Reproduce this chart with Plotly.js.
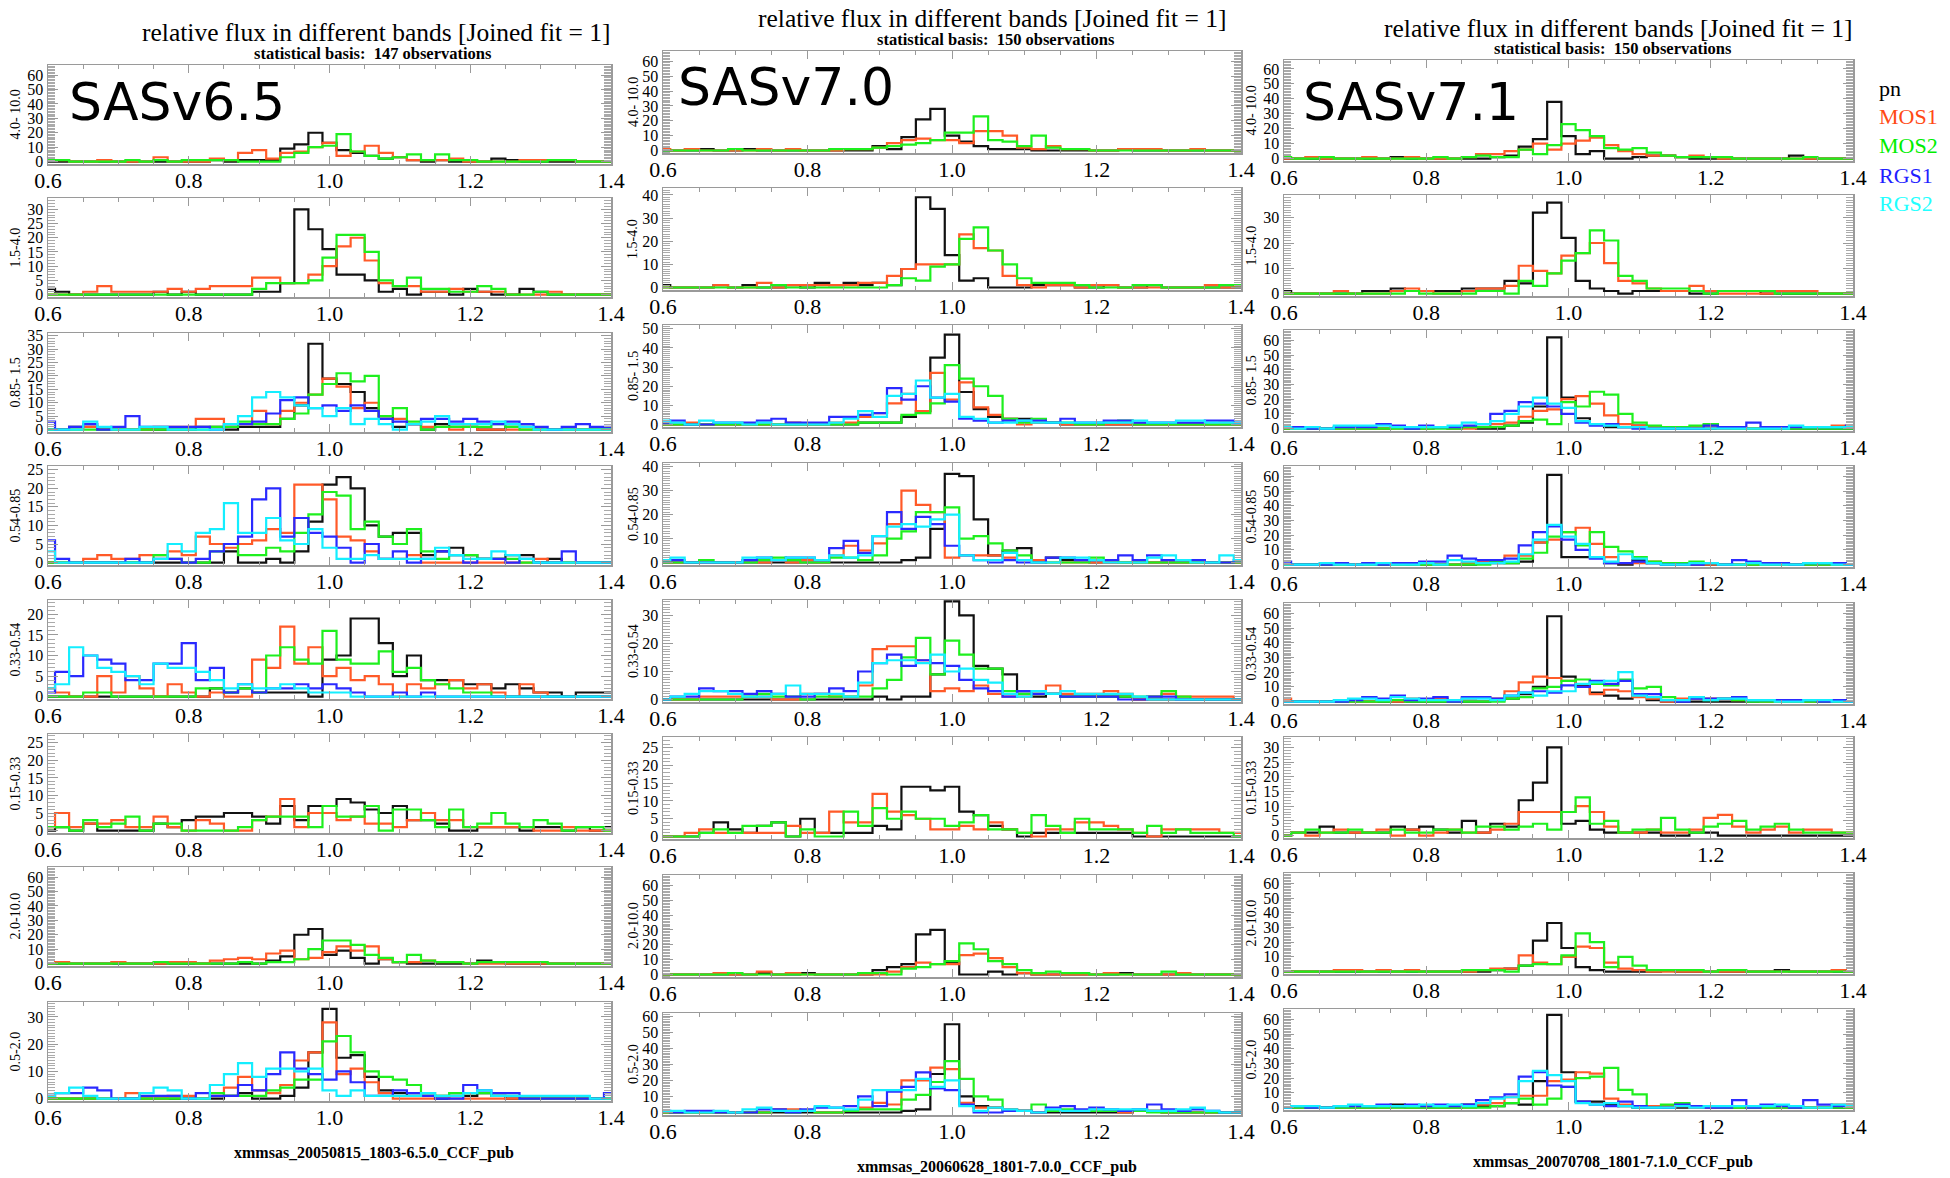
<!DOCTYPE html>
<html>
<head>
<meta charset="utf-8">
<script src="https://cdn.plot.ly/plotly-3.0.1.min.js"></script>
<style>html,body{margin:0;padding:0;background:#fff;}#chart{width:1950px;height:1178px;}</style>
</head>
<body>
<div id="chart"></div>
<script>
// ---------------- DATA ----------------
const xCenters = [0.60,0.62,0.64,0.66,0.68,0.70,0.72,0.74,0.76,0.78, 0.80,0.82,0.84,0.86,0.88,0.90,0.92,0.94,0.96,0.98, 1.00,1.02,1.04,1.06,1.08,1.10,1.12,1.14,1.16,1.18, 1.20,1.22,1.24,1.26,1.28,1.30,1.32,1.34,1.36,1.38, 1.40];
const xTickVals = [0.6,0.8,1.0,1.2,1.4];
const xTickText = ['0.6','0.8','1.0','1.2','1.4'];
const versions = ['SASv6.5','SASv7.0','SASv7.1'];
const observations = [147,150,150];
const runLabels = ['xmmsas_20050815_1803-6.5.0_CCF_pub','xmmsas_20060628_1801-7.0.0_CCF_pub','xmmsas_20070708_1801-7.1.0_CCF_pub'];
const bands = ['4.0- 10.0','1.5-4.0','0.85- 1.5','0.54-0.85','0.33-0.54','0.15-0.33','2.0-10.0','0.5-2.0'];
const detectors = ['pn','MOS1','MOS2','RGS1','RGS2'];
const mainTitle = 'relative flux in different bands [Joined fit = 1]';

// ---- SASv6.5 ----
const v65_b4_10_pn   = [0,0,0,0,0,0,0,0,0,0, 0,0,1,0,1,1,1,9,12,20, 13,8,6,4,2,3,1,0,1,0, 0,0,2,1,0,0,0,0,0,0, 0];
const v65_b4_10_mos1 = [1,1,0,0,1,0,0,0,3,0, 0,0,2,1,6,8,2,6,7,10, 13,4,7,11,6,3,1,1,1,2, 0,0,0,0,1,1,1,1,0,0, 0];
const v65_b4_10_mos2 = [1,1,0,0,0,0,1,0,1,0, 1,1,1,1,0,0,0,3,6,10, 11,19,7,4,2,3,5,1,5,1, 1,0,0,0,0,0,1,1,0,0, 0];

const v65_b15_4_pn   = [2,1,0,0,0,0,0,0,1,0, 1,0,0,0,0,1,1,4,30,23, 16,7,7,5,1,2,0,1,1,0, 2,1,0,0,2,1,0,0,0,0, 0];
const v65_b15_4_mos1 = [0,0,0,1,3,1,1,1,1,2, 1,2,3,3,3,6,6,4,4,7, 10,17,20,12,4,3,3,1,1,2, 1,1,1,0,0,0,1,0,0,0, 0];
const v65_b15_4_mos2 = [0,0,0,0,0,0,0,0,0,0, 0,0,0,0,0,2,4,4,4,5, 13,21,21,15,5,3,6,2,2,1, 1,3,2,0,0,1,0,0,0,0, 0];

const v65_b085_15_pn   = [0,0,1,1,0,0,0,0,0,0, 0,1,1,0,1,1,1,4,9,32, 19,17,14,8,5,1,2,0,2,1, 1,0,0,1,1,0,0,0,0,0, 0];
const v65_b085_15_mos1 = [0,0,0,1,0,0,0,0,1,1, 1,4,4,2,2,7,2,7,10,13, 19,16,8,10,4,4,2,1,1,0, 1,0,0,0,0,0,0,0,0,0, 0];
const v65_b085_15_mos2 = [0,0,0,0,0,0,0,0,0,0, 0,0,1,1,3,2,2,4,6,13, 17,21,18,20,5,8,3,0,1,1, 1,1,2,1,0,0,0,0,0,0, 0];
const v65_b085_15_rgs1 = [3,0,1,2,0,1,5,1,1,1, 1,1,0,2,2,3,6,11,12,8, 9,7,9,7,4,3,2,4,4,3, 4,3,2,3,2,1,0,1,2,1, 1];
const v65_b085_15_rgs2 = [0,0,0,3,1,0,0,1,1,0, 0,0,0,2,5,12,14,12,9,8, 5,8,2,4,2,0,2,3,5,2, 2,2,3,2,1,0,0,0,0,0, 0];

const v65_b054_085_pn   = [0,0,0,0,0,0,0,0,0,0, 0,0,0,3,0,0,1,0,3,11, 21,23,20,10,7,8,8,2,3,4, 2,1,1,2,2,0,1,0,0,0, 0];
const v65_b054_085_mos1 = [0,0,0,1,2,1,1,2,2,3, 2,7,5,4,5,6,9,8,21,21, 17,7,6,3,1,1,2,0,0,0, 0,0,0,0,0,1,0,0,0,0, 0];
const v65_b054_085_mos2 = [0,0,0,0,0,0,0,0,2,1, 0,0,3,5,2,2,4,3,8,13, 19,18,9,11,7,5,9,3,1,2, 2,1,1,1,0,0,0,0,0,0, 0];
const v65_b054_085_rgs1 = [6,1,0,0,0,0,1,0,1,1, 0,1,3,5,7,17,20,7,12,8, 7,4,0,5,1,3,0,1,3,2, 0,1,1,0,1,0,0,3,0,0, 0];
const v65_b054_085_rgs2 = [3,0,0,0,0,0,0,0,1,5, 3,8,9,16,8,8,12,6,5,9, 4,1,1,2,1,1,1,1,4,2, 1,1,3,2,1,0,0,0,0,0, 0];

const v65_b033_054_pn   = [0,0,0,0,0,0,0,0,0,0, 0,0,2,1,2,1,1,1,1,0, 9,10,19,19,13,5,10,4,4,4, 3,3,2,3,2,1,1,0,1,1, 1];
const v65_b033_054_mos1 = [2,1,0,0,5,1,5,2,0,3, 1,0,1,0,0,9,7,17,8,12, 5,7,4,5,3,0,3,2,3,4, 2,3,1,0,3,1,0,0,0,0, 0];
const v65_b033_054_mos2 = [0,0,0,1,1,0,0,0,0,0, 0,2,2,1,2,1,10,12,9,8, 16,9,8,8,11,6,7,4,3,2, 1,1,0,0,0,0,0,0,0,0, 0];
const v65_b033_054_rgs1 = [1,6,5,10,9,8,4,4,8,8, 13,4,7,1,3,1,2,2,3,2, 3,2,1,0,0,1,0,1,0,0, 0,0,0,0,0,0,0,0,0,0, 0];
const v65_b033_054_rgs2 = [2,3,12,10,7,6,5,3,8,7, 7,6,4,2,3,2,2,3,2,1, 1,1,0,0,0,0,0,0,0,0, 0,0,0,0,0,0,0,0,0,0, 0];

const v65_b015_033_pn   = [0,1,0,2,0,0,0,0,2,1, 3,4,4,5,5,4,2,7,3,7, 7,9,8,6,5,7,3,3,2,0, 0,1,1,1,0,1,1,0,1,0, 1];
const v65_b015_033_mos1 = [1,5,1,2,2,3,1,1,4,1, 0,3,2,0,0,3,4,9,1,5, 5,3,4,2,2,1,3,5,3,3, 1,1,1,1,1,0,0,1,0,0, 0];
const v65_b015_033_mos2 = [1,1,0,3,1,2,4,0,2,2, 0,0,0,0,1,3,4,4,4,1, 7,4,4,7,0,6,6,3,1,6, 1,2,5,2,1,3,2,0,1,1, 0];

const v65_b2_10_pn   = [0,0,0,0,0,0,0,0,0,0, 0,0,0,0,0,0,2,5,20,24, 6,9,4,0,3,1,0,0,0,0, 0,2,1,0,0,0,0,0,0,0, 0];
const v65_b2_10_mos1 = [0,1,0,0,0,1,0,0,0,1, 1,0,2,3,4,3,7,9,3,4, 8,12,9,12,3,1,1,2,1,1, 0,0,0,0,0,0,0,0,0,0, 0];
const v65_b2_10_mos2 = [0,0,0,0,0,0,0,0,1,0, 0,0,0,0,1,0,1,1,3,10, 16,16,13,6,4,1,6,2,1,1, 0,1,1,1,1,1,0,0,0,0, 0];

const v65_b05_2_pn   = [0,0,0,0,0,0,0,0,0,0, 0,0,0,1,2,0,0,1,4,17, 33,15,16,8,3,2,1,1,0,1, 1,2,1,0,0,0,0,0,0,0, 0];
const v65_b05_2_mos1 = [0,0,0,0,0,0,2,0,0,1, 1,0,1,4,8,3,2,5,14,17, 28,9,11,6,2,0,0,0,1,0, 0,0,0,0,0,0,0,0,0,0, 0];
const v65_b05_2_mos2 = [0,0,0,0,0,0,0,0,0,0, 0,0,2,1,1,1,3,4,7,7, 21,23,17,10,8,7,5,2,1,2, 2,2,1,1,0,0,0,0,0,0, 0];
const v65_b05_2_rgs1 = [1,2,2,4,3,0,0,1,1,1, 0,2,1,1,5,3,9,17,11,9, 7,10,6,1,1,3,2,1,0,0, 5,3,2,2,0,0,0,0,0,0, 2];
const v65_b05_2_rgs2 = [1,2,4,1,0,0,0,2,4,3, 0,0,5,9,13,8,11,11,10,11, 3,1,3,1,1,1,1,2,1,1, 2,3,1,1,1,1,1,1,1,0, 0];

// ---- SASv7.0 ----
const v70_b4_10_pn   = [0,0,0,1,0,0,1,0,0,0, 0,0,0,0,0,3,1,9,21,28, 10,6,3,1,1,1,0,0,0,0, 0,0,1,0,0,0,0,0,0,0, 0];
const v70_b4_10_mos1 = [1,0,1,0,0,0,0,1,0,1, 0,0,0,1,1,2,5,7,8,7, 7,5,13,13,10,2,1,3,1,1, 0,0,1,1,1,0,0,1,0,0, 0];
const v70_b4_10_mos2 = [0,0,0,0,0,1,0,0,0,0, 0,0,1,1,1,2,3,4,5,7, 12,12,23,7,6,3,10,2,1,1, 0,0,0,0,0,0,0,0,0,0, 0];

const v70_b15_4_pn   = [1,0,0,0,1,0,1,0,0,1, 0,2,1,2,1,2,1,8,39,34, 14,3,4,0,0,0,1,1,1,0, 0,1,0,0,1,0,0,0,0,0, 0];
const v70_b15_4_mos1 = [0,0,0,0,1,0,0,2,0,1, 1,1,1,1,2,2,5,8,10,10, 10,23,17,16,5,1,0,1,1,0, 1,1,0,0,0,0,0,0,1,0, 1];
const v70_b15_4_mos2 = [0,0,0,0,0,0,0,0,1,0, 0,0,0,0,0,0,1,4,3,9, 10,21,26,16,10,4,2,2,2,1, 0,0,0,1,1,0,0,0,0,1, 1];

const v70_b085_15_pn   = [0,0,0,0,0,0,0,0,0,0, 0,0,0,0,1,1,1,4,7,35, 47,17,8,4,3,3,1,1,0,0, 0,0,0,0,0,0,0,0,0,0, 0];
const v70_b085_15_mos1 = [0,0,1,0,0,0,0,0,0,1, 0,0,1,1,4,6,11,16,7,27, 13,22,9,5,3,0,1,1,0,0, 0,0,0,0,0,0,0,0,0,1, 0];
const v70_b085_15_mos2 = [0,0,0,0,0,0,0,0,0,0, 0,0,0,0,1,1,1,5,6,11, 31,24,20,15,3,1,3,1,1,0, 0,1,2,0,0,0,0,0,0,0, 0];
const v70_b085_15_rgs1 = [1,2,0,0,1,1,1,2,3,1, 1,1,4,4,5,6,19,13,20,14, 12,3,2,1,2,2,2,1,3,1, 1,2,2,1,1,1,1,1,2,2, 1];
const v70_b085_15_rgs2 = [2,1,0,2,1,1,0,1,0,0, 0,0,1,3,7,4,15,16,23,14, 16,4,3,1,1,2,1,1,1,1, 1,1,1,2,1,1,2,2,1,1, 1];

const v70_b054_085_pn   = [0,0,0,0,0,0,0,0,0,0, 0,0,0,0,0,0,0,1,2,14, 37,36,18,3,5,6,1,2,1,1, 0,0,0,0,0,0,0,0,0,0, 0];
const v70_b054_085_mos1 = [1,0,0,0,0,0,1,0,1,0, 1,0,3,7,5,8,16,30,24,21, 2,3,3,3,2,1,1,0,0,0, 0,0,0,0,0,0,0,0,0,0, 0];
const v70_b054_085_mos2 = [0,0,0,1,0,0,0,1,2,1, 0,0,2,2,1,3,10,13,21,21, 23,10,11,8,5,3,0,0,0,0, 2,1,0,0,0,0,0,0,0,0, 0];
const v70_b054_085_rgs1 = [1,1,0,0,0,0,1,2,1,2, 2,1,6,9,4,11,21,14,19,16, 7,3,1,0,1,0,0,2,2,1, 1,1,3,1,3,1,1,1,0,0, 1];
const v70_b054_085_rgs2 = [1,2,0,0,0,0,2,2,1,2, 2,1,3,2,3,11,15,16,15,18, 20,3,1,1,4,1,0,0,2,2, 1,0,0,0,2,3,1,0,0,3, 1];

const v70_b033_054_pn   = [0,0,0,0,0,0,0,0,0,0, 0,0,0,0,0,1,0,1,1,9, 35,30,12,11,9,2,1,2,1,1, 1,1,1,0,0,0,0,0,0,0, 0];
const v70_b033_054_mos1 = [0,0,0,1,1,1,1,1,0,0, 2,2,1,1,5,18,19,19,14,3, 4,3,5,2,1,1,2,5,2,2, 2,3,2,0,1,2,1,1,1,1, 0];
const v70_b033_054_mos2 = [0,0,0,0,0,0,1,2,1,1, 0,1,1,1,1,4,7,15,22,9, 21,16,11,11,3,2,2,2,1,1, 1,1,1,1,1,3,1,0,0,0, 0];
const v70_b033_054_rgs1 = [0,1,1,4,3,3,2,3,2,1, 1,2,4,3,10,13,16,12,14,13, 12,7,4,3,1,3,2,2,1,1, 1,1,0,0,1,1,0,0,0,0, 0];
const v70_b033_054_rgs2 = [0,1,2,3,3,2,1,1,2,5, 2,2,2,1,6,13,14,14,13,16, 10,11,7,6,2,1,3,2,3,2, 2,2,2,1,0,0,0,0,0,0, 0];

const v70_b015_033_pn   = [0,0,0,1,4,2,1,3,4,0, 5,1,1,1,1,3,2,14,14,13, 14,7,6,3,2,0,1,1,1,1, 1,1,1,0,0,0,0,0,0,0, 0];
const v70_b015_033_mos1 = [0,0,1,2,1,1,1,1,1,3, 1,1,7,4,4,12,7,6,5,2, 2,3,2,4,2,1,0,2,2,4, 4,3,2,1,0,2,2,2,2,1, 1];
const v70_b015_033_mos2 = [0,0,0,1,2,1,3,3,4,0, 2,0,0,7,3,8,5,7,5,5, 3,4,6,2,2,1,6,3,1,5, 2,2,2,1,3,1,2,1,1,1, 0];

const v70_b2_10_pn   = [0,0,0,0,0,0,0,1,0,0, 1,0,0,0,0,3,5,7,27,30, 8,0,0,2,0,1,0,0,0,0, 0,0,1,0,0,0,0,0,0,0, 0];
const v70_b2_10_mos1 = [0,0,0,0,1,0,0,2,0,1, 0,0,0,0,0,0,2,5,8,7, 7,13,14,11,5,1,0,0,0,0, 0,1,0,0,0,0,1,0,0,0, 0];
const v70_b2_10_mos2 = [0,0,0,0,0,1,0,0,0,0, 0,0,0,0,1,1,0,4,5,7, 9,21,17,9,7,3,1,2,1,1, 0,0,0,0,0,2,0,0,0,0, 0];

const v70_b05_2_pn   = [0,0,0,0,0,0,0,0,0,0, 0,0,0,0,0,0,0,1,2,24, 55,10,4,3,2,1,0,0,0,0, 0,0,0,1,1,0,0,0,0,0, 0];
const v70_b05_2_mos1 = [0,0,0,0,0,0,0,0,2,2, 1,0,0,1,3,6,5,20,20,28, 27,6,3,3,2,1,0,1,1,1, 2,1,0,1,1,0,0,0,0,0, 0];
const v70_b05_2_mos2 = [0,0,0,0,0,0,0,0,1,0, 1,0,0,1,2,2,2,8,11,19, 32,21,10,8,1,1,5,1,2,1, 1,1,1,1,0,0,0,0,0,0, 0];
const v70_b05_2_rgs1 = [1,0,1,1,0,0,0,2,2,0, 2,3,3,4,10,4,13,16,25,15, 14,5,0,0,1,1,0,3,4,2, 3,2,1,2,5,2,1,2,1,0, 0];
const v70_b05_2_rgs2 = [1,1,0,0,1,0,2,3,1,1, 1,4,3,2,8,14,14,14,21,16, 20,4,1,3,2,1,0,2,1,1, 2,2,2,2,1,1,2,3,1,0, 0];

// ---- SASv7.1 ----
const v71_b4_10_pn   = [0,0,0,0,0,0,0,0,1,0, 0,0,0,0,0,1,2,8,13,38, 15,3,5,0,0,1,2,2,1,0, 0,0,0,0,0,0,2,0,0,0, 0];
const v71_b4_10_mos1 = [0,0,1,0,0,0,1,0,0,1, 0,0,0,1,3,3,5,6,10,6, 10,12,14,9,5,3,2,2,1,2, 1,0,0,0,0,0,0,0,0,0, 0];
const v71_b4_10_mos2 = [1,0,0,1,0,0,0,0,0,0, 0,1,0,1,2,1,1,6,3,9, 23,19,15,7,6,7,4,2,1,1, 1,1,0,0,0,0,0,1,0,0, 0];

const v71_b15_4_pn   = [1,0,0,0,0,0,1,1,2,1, 1,1,1,2,2,2,5,4,32,36, 22,5,2,1,0,1,1,1,1,0, 0,1,1,1,0,0,0,0,0,0, 0];
const v71_b15_4_mos1 = [0,0,0,0,1,0,0,0,1,2, 1,0,0,1,2,2,3,11,9,8, 15,16,20,12,5,4,2,1,1,3, 1,0,0,0,0,1,1,1,0,0, 0];
const v71_b15_4_mos2 = [0,0,0,0,0,0,0,0,0,1, 0,0,0,0,1,1,0,5,3,8, 13,16,25,21,7,5,2,2,2,1, 0,1,1,1,1,0,0,0,0,0, 0];

const v71_b085_15_pn   = [0,0,0,0,0,0,0,0,1,0, 0,1,0,1,0,0,2,4,15,62, 21,7,3,1,1,2,1,0,0,0, 0,0,0,0,0,0,0,0,0,0, 0];
const v71_b085_15_mos1 = [0,0,1,0,0,0,0,0,0,1, 0,1,0,0,1,3,4,8,12,13, 20,22,17,9,3,2,1,1,1,1, 2,0,0,0,1,1,1,1,1,2, 2];
const v71_b085_15_mos2 = [0,0,0,0,0,0,0,0,0,0, 0,0,0,1,1,1,2,5,6,3, 18,15,25,23,10,4,2,1,1,2, 3,1,0,0,0,0,0,0,0,0, 0];
const v71_b085_15_rgs1 = [1,1,0,0,1,1,1,3,2,0, 2,1,1,2,3,10,12,18,17,15, 10,4,2,3,1,0,0,0,0,0, 2,1,1,4,1,1,1,1,1,1, 2];
const v71_b085_15_rgs2 = [1,0,1,0,2,2,2,2,1,1, 1,1,2,4,3,5,10,15,21,17, 14,5,3,2,1,1,0,0,0,0, 0,0,0,0,0,0,2,1,1,1, 1];

const v71_b054_085_pn   = [0,0,0,0,0,0,0,0,0,0, 0,0,0,0,2,1,1,2,15,61, 5,5,5,1,0,3,1,0,0,0, 0,0,0,0,0,0,0,0,0,0, 0];
const v71_b054_085_mos1 = [0,0,0,0,0,0,0,0,0,1, 0,0,0,1,2,3,6,6,15,17, 22,25,14,5,1,1,2,1,0,0, 0,0,0,0,0,0,0,0,0,0, 0];
const v71_b054_085_mos2 = [0,0,0,0,0,0,0,0,0,0, 0,0,0,0,0,2,1,4,8,19, 22,13,22,12,9,5,2,1,1,2, 1,0,0,0,0,0,0,0,0,0, 0];
const v71_b054_085_rgs1 = [2,0,0,0,1,0,1,0,1,1, 2,2,6,4,3,3,4,13,22,26, 17,10,4,1,1,2,1,0,0,0, 1,0,3,2,1,1,0,1,1,1, 0];
const v71_b054_085_rgs2 = [0,0,0,1,0,0,0,1,0,0, 1,0,3,2,1,1,2,7,17,27, 19,14,5,2,7,4,1,0,0,1, 1,0,0,1,0,0,0,1,1,0, 0];

const v71_b033_054_pn   = [0,0,0,0,0,0,0,0,0,0, 0,0,0,0,0,1,2,5,10,58, 17,11,6,4,2,5,1,0,0,0, 0,0,0,0,0,0,0,0,0,0, 0];
const v71_b033_054_mos1 = [2,0,0,0,0,0,0,1,0,2, 1,2,0,2,3,2,7,13,17,16, 14,10,5,8,7,3,2,0,2,2, 2,2,1,1,0,0,0,0,0,0, 0];
const v71_b033_054_mos2 = [0,0,0,0,0,0,0,0,1,0, 0,0,0,0,0,0,2,3,9,10, 14,15,12,11,15,9,10,3,1,3, 1,2,1,0,0,0,0,0,0,0, 0];
const v71_b033_054_rgs1 = [0,0,0,0,0,1,3,2,4,1, 2,3,0,3,3,2,4,6,7,6, 11,10,14,12,14,5,5,1,0,2, 2,2,3,1,1,1,1,1,0,1, 0];
const v71_b033_054_rgs2 = [0,0,0,0,1,2,2,1,3,2, 1,1,1,2,2,1,4,6,4,7, 7,12,13,14,20,4,3,1,1,3, 1,2,2,1,1,0,0,1,1,0, 0];

const v71_b015_033_pn   = [0,1,1,3,1,1,1,1,3,2, 3,2,1,5,1,4,3,12,18,30, 4,5,2,1,1,1,1,0,0,1, 1,0,0,0,0,0,0,0,0,0, 0];
const v71_b015_033_mos1 = [0,1,0,1,2,1,1,2,0,2, 0,1,2,1,1,2,4,8,8,8, 8,10,8,3,1,1,2,1,1,2, 6,7,3,1,2,3,1,2,2,1, 1];
const v71_b015_033_mos2 = [0,1,2,1,1,2,1,1,2,1, 1,2,2,1,3,3,2,3,4,2, 8,13,4,5,1,2,2,6,2,1, 3,4,5,2,3,4,2,1,1,1, 1];

const v71_b2_10_pn   = [0,0,0,0,0,0,0,0,0,0, 0,0,0,0,0,1,2,4,21,33, 16,3,1,0,0,0,0,1,0,0, 0,0,0,0,0,1,0,0,0,0, 0];
const v71_b2_10_mos1 = [0,0,0,0,1,1,0,1,0,1, 0,0,0,0,1,2,2,11,6,5, 10,17,16,6,2,1,0,0,0,0, 0,0,0,0,0,0,0,0,0,1, 0];
const v71_b2_10_mos2 = [0,0,0,0,0,0,0,0,0,0, 0,0,0,1,1,1,0,4,5,5, 11,26,20,3,10,4,1,1,1,1, 0,1,1,0,0,0,0,0,0,0, 0];

const v71_b05_2_pn   = [0,0,0,0,0,0,0,0,2,0, 0,0,0,2,1,1,3,2,18,63, 24,4,4,2,1,0,0,0,0,0, 0,0,0,0,0,0,0,0,0,0, 0];
const v71_b05_2_mos1 = [0,0,0,0,0,0,0,0,0,0, 0,0,0,0,2,3,7,8,8,18, 19,24,23,6,2,1,1,1,1,0, 0,0,0,0,0,0,0,0,0,2, 0];
const v71_b05_2_mos2 = [0,0,0,0,0,0,0,0,0,0, 0,0,0,0,0,1,3,6,2,6, 14,20,21,27,12,9,0,2,3,1, 1,0,0,0,0,0,0,0,0,0, 0];
const v71_b05_2_rgs1 = [0,1,0,0,1,1,1,2,1,2, 1,2,1,2,5,7,9,21,24,15, 14,4,2,1,4,1,0,0,2,1, 0,0,5,0,2,1,0,5,2,1, 1];
const v71_b05_2_rgs2 = [0,1,1,0,1,2,1,1,1,1, 2,1,2,1,3,6,7,18,25,22, 18,3,2,3,1,0,0,0,1,0, 1,1,1,1,1,2,1,0,0,2, 1];

// panel table built from the named arrays: [version][band] -> series per detector
const panels = [
  [
    [v65_b4_10_pn, v65_b4_10_mos1, v65_b4_10_mos2],
    [v65_b15_4_pn, v65_b15_4_mos1, v65_b15_4_mos2],
    [v65_b085_15_pn, v65_b085_15_mos1, v65_b085_15_mos2, v65_b085_15_rgs1, v65_b085_15_rgs2],
    [v65_b054_085_pn, v65_b054_085_mos1, v65_b054_085_mos2, v65_b054_085_rgs1, v65_b054_085_rgs2],
    [v65_b033_054_pn, v65_b033_054_mos1, v65_b033_054_mos2, v65_b033_054_rgs1, v65_b033_054_rgs2],
    [v65_b015_033_pn, v65_b015_033_mos1, v65_b015_033_mos2],
    [v65_b2_10_pn, v65_b2_10_mos1, v65_b2_10_mos2],
    [v65_b05_2_pn, v65_b05_2_mos1, v65_b05_2_mos2, v65_b05_2_rgs1, v65_b05_2_rgs2]
  ],
  [
    [v70_b4_10_pn, v70_b4_10_mos1, v70_b4_10_mos2],
    [v70_b15_4_pn, v70_b15_4_mos1, v70_b15_4_mos2],
    [v70_b085_15_pn, v70_b085_15_mos1, v70_b085_15_mos2, v70_b085_15_rgs1, v70_b085_15_rgs2],
    [v70_b054_085_pn, v70_b054_085_mos1, v70_b054_085_mos2, v70_b054_085_rgs1, v70_b054_085_rgs2],
    [v70_b033_054_pn, v70_b033_054_mos1, v70_b033_054_mos2, v70_b033_054_rgs1, v70_b033_054_rgs2],
    [v70_b015_033_pn, v70_b015_033_mos1, v70_b015_033_mos2],
    [v70_b2_10_pn, v70_b2_10_mos1, v70_b2_10_mos2],
    [v70_b05_2_pn, v70_b05_2_mos1, v70_b05_2_mos2, v70_b05_2_rgs1, v70_b05_2_rgs2]
  ],
  [
    [v71_b4_10_pn, v71_b4_10_mos1, v71_b4_10_mos2],
    [v71_b15_4_pn, v71_b15_4_mos1, v71_b15_4_mos2],
    [v71_b085_15_pn, v71_b085_15_mos1, v71_b085_15_mos2, v71_b085_15_rgs1, v71_b085_15_rgs2],
    [v71_b054_085_pn, v71_b054_085_mos1, v71_b054_085_mos2, v71_b054_085_rgs1, v71_b054_085_rgs2],
    [v71_b033_054_pn, v71_b033_054_mos1, v71_b033_054_mos2, v71_b033_054_rgs1, v71_b033_054_rgs2],
    [v71_b015_033_pn, v71_b015_033_mos1, v71_b015_033_mos2],
    [v71_b2_10_pn, v71_b2_10_mos1, v71_b2_10_mos2],
    [v71_b05_2_pn, v71_b05_2_mos1, v71_b05_2_mos2, v71_b05_2_rgs1, v71_b05_2_rgs2]
  ]
];

// ---------------- LAYOUT / STYLE ----------------
const W = 1950, H = 1178;
const lineColors = ['#111111', '#ff5a28', '#1eef1e', '#2a2aff', '#14eeff'];
const labelColors = ['#000000', '#ff4a14', '#00ee00', '#1f1fff', '#22ffff'];
const colX = [[48, 611], [663, 1241], [1284, 1853]];
const rowTops = [
  [65, 198, 333, 466, 600, 734, 867, 1002],
  [51, 188, 325, 463, 600, 737, 875, 1013],
  [60, 195, 330, 466, 603, 737, 873, 1009]
];
const rowH = [99, 102, 101];
const yTop = [
  [67, 34, 36, 26, 23.5, 27.5, 67, 35.5],
  [67, 43, 52, 41.5, 35.5, 28, 67, 62],
  [66, 39, 67, 67, 67, 33.5, 67, 67]
];
const yStep = [
  [10, 5, 5, 5, 5, 5, 10, 10],
  [10, 10, 10, 10, 10, 5, 10, 10],
  [10, 10, 10, 10, 10, 5, 10, 10]
];
const serif = 'Liberation Serif, Times New Roman, serif';
const frameCol = '#9a9a9a';

const data = [];
const layout = {
  width: W, height: H,
  margin: {l: 0, r: 0, t: 0, b: 0},
  paper_bgcolor: '#ffffff', plot_bgcolor: '#ffffff',
  showlegend: false,
  annotations: [],
  font: {family: serif, color: '#000'}
};

for (let c = 0; c < 3; c++) {
  for (let r = 0; r < 8; r++) {
    const k = c * 8 + r + 1;
    const xa = 'xaxis' + (k === 1 ? '' : k), ya = 'yaxis' + (k === 1 ? '' : k);
    const top = rowTops[c][r], bot = top + rowH[c];
    layout[xa] = {
      domain: [colX[c][0] / W, colX[c][1] / W],
      anchor: 'y' + k,
      range: [0.6, 1.4],
      tickvals: xTickVals, ticktext: xTickText,
      ticks: 'inside', ticklen: 8, tickwidth: 1, tickcolor: frameCol,
      minor: {dtick: 0.05, tick0: 0.6, ticks: 'inside', ticklen: 4, tickcolor: frameCol},
      showline: true, linecolor: frameCol, linewidth: 1.5, mirror: 'allticks',
      showgrid: false, zeroline: false,
      ticklabelstandoff: -4,
      tickfont: {family: serif, size: 22, color: '#000'}
    };
    const yt = yTop[c][r];
    layout[ya] = {
      domain: [1 - bot / H, 1 - top / H],
      anchor: 'x' + k,
      range: [-0.025 * yt, yt],
      tick0: 0, dtick: yStep[c][r],
      ticks: 'inside', ticklen: 10, tickwidth: 1, tickcolor: frameCol,
      minor: {dtick: 1, tick0: 0, ticks: 'inside', ticklen: 7, tickcolor: '#aaaaaa'},
      showline: true, linecolor: frameCol, linewidth: 1.5, mirror: 'allticks',
      showgrid: false, zeroline: false,
      tickfont: {family: serif, size: 16, color: '#000'}
    };
    const series = panels[c][r];
    for (let d = 0; d < series.length; d++) {
      data.push({
        type: 'scatter', mode: 'lines',
        x: xCenters, y: series[d],
        name: detectors[d],
        xaxis: 'x' + k, yaxis: 'y' + k,
        line: {shape: 'hvh', color: lineColors[d], width: 2.2},
        hoverinfo: 'skip'
      });
    }
    // band label
    const bandX = [15, 633, 1251][c];
    layout.annotations.push({
      xref: 'paper', yref: 'paper', x: bandX / W, y: 1 - (top + rowH[c] / 2) / H,
      text: bands[r], showarrow: false, textangle: -90,
      xanchor: 'center', yanchor: 'middle',
      font: {family: serif, size: 14, color: '#000'}
    });
  }
}

const titlePos = [[376, 33], [992, 18], [1618, 28]];
const subPos = [[373, 53], [996, 40], [1613, 48]];
const runPos = [[374, 1153], [997, 1167], [1613, 1162]];
const sasPos = [[68, 102], [677, 87], [1302, 102]];
for (let c = 0; c < 3; c++) {
  layout.annotations.push({
    xref: 'paper', yref: 'paper', x: titlePos[c][0] / W, y: 1 - titlePos[c][1] / H,
    text: mainTitle, showarrow: false, xanchor: 'center', yanchor: 'middle',
    borderpad: 0,
    font: {family: serif, size: 25.5, color: '#000'}
  });
  layout.annotations.push({
    xref: 'paper', yref: 'paper', x: subPos[c][0] / W, y: 1 - subPos[c][1] / H,
    text: '<b>statistical basis:  ' + observations[c] + ' observations</b>', showarrow: false,
    xanchor: 'center', yanchor: 'middle', borderpad: 0,
    font: {family: serif, size: 16.5, color: '#000'}
  });
  layout.annotations.push({
    xref: 'paper', yref: 'paper', x: runPos[c][0] / W, y: 1 - runPos[c][1] / H,
    text: '<b>' + runLabels[c] + '</b>', showarrow: false,
    xanchor: 'center', yanchor: 'middle',
    font: {family: serif, size: 16, color: '#000'}
  });
  layout.annotations.push({
    xref: 'paper', yref: 'paper', x: sasPos[c][0] / W, y: 1 - sasPos[c][1] / H,
    text: versions[c], showarrow: false, xanchor: 'left', yanchor: 'middle',
    borderpad: 0,
    font: {family: 'DejaVu Sans, sans-serif', size: 52, color: '#000'}
  });
}
const legY = [88, 117, 146, 175, 204];
for (let d = 0; d < detectors.length; d++) {
  layout.annotations.push({
    xref: 'paper', yref: 'paper', x: 1877 / W, y: 1 - legY[d] / H,
    text: detectors[d], showarrow: false, xanchor: 'left', yanchor: 'middle',
    font: {family: serif, size: 22, color: labelColors[d]}
  });
}

Plotly.newPlot('chart', data, layout, {staticPlot: true, displayModeBar: false});
</script>
</body>
</html>
